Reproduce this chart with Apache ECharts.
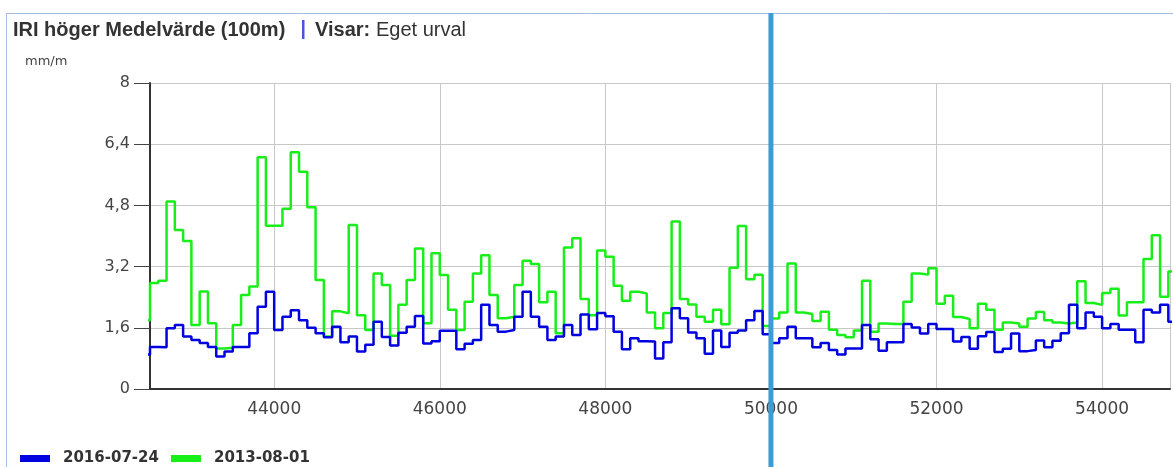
<!DOCTYPE html>
<html><head><meta charset="utf-8">
<script src="https://cdn.jsdelivr.net/npm/echarts@6/dist/echarts.min.js"></script>
<style>html,body{margin:0;padding:0;background:#fff;overflow:hidden}#c{width:1173px;height:467px}</style>
</head><body><div id="c"></div>
<script>
// Position (m) where the first 100 m step starts, and the step length
const startPos = 42400;
const stepLen = 100;
// IRI höger medelvärde per 100 m (mm/m)
const blue2016 = [0.9,
 1.1,1.09,1.59,1.67,1.37,1.28,1.2,1.1,0.85,0.98,
 1.1,1.1,1.46,2.15,2.54,1.54,1.89,2.06,1.8,1.6,
 1.46,1.35,1.63,1.22,1.37,0.98,1.16,1.76,1.36,1.14,
 1.47,1.63,1.91,1.19,1.25,1.52,1.52,1.04,1.18,1.28,
 2.2,1.67,1.5,1.54,1.89,2.54,1.89,1.63,1.28,1.37,
 1.67,1.41,1.95,1.56,1.99,1.9,1.5,1.04,1.33,1.25,
 1.24,0.8,1.22,2.11,1.85,1.48,1.33,0.92,1.53,1.1,
 1.47,1.53,1.8,2.04,1.43,1.2,1.33,1.63,1.33,1.33,
 1.09,1.2,1.02,0.9,1.06,1.06,1.67,1.3,1.0,1.22,
 1.22,1.7,1.61,1.45,1.7,1.57,1.57,1.24,1.36,1.05,
 1.38,1.49,0.97,1.05,1.45,0.99,1.02,1.27,1.09,1.26,
 1.46,2.2,1.59,2.0,1.89,1.59,1.7,1.55,1.55,1.22,
 2.07,2.0,2.2,1.76];
const green2013 = [1.8,
 2.77,2.83,4.9,4.16,3.87,1.67,2.55,1.72,1.06,1.08,
 1.67,2.46,2.68,6.06,4.27,4.27,4.71,6.19,5.68,4.75,
 2.85,1.37,2.03,1.98,4.29,1.93,1.54,3.02,2.72,1.39,
 2.2,2.85,3.67,1.72,3.55,2.98,2.07,1.54,2.28,3.02,
 3.5,2.46,1.85,1.89,2.72,3.35,3.27,2.27,2.54,1.46,
 3.7,3.94,2.35,1.93,3.62,3.46,2.7,2.31,2.54,2.5,
 2.0,1.59,1.99,4.38,2.35,2.21,1.89,1.76,2.07,1.69,
 3.17,4.26,2.87,2.99,1.65,1.84,2.0,3.28,2.0,1.96,
 1.78,2.02,1.55,1.41,1.35,1.53,2.83,1.5,1.71,1.7,
 1.7,2.28,3.02,2.99,3.16,2.23,2.44,1.88,1.83,1.59,
 2.23,2.07,1.55,1.74,1.71,1.63,1.84,2.01,1.8,1.74,
 1.71,1.74,2.82,2.25,2.2,2.51,2.62,1.92,2.27,2.27,
 3.4,4.02,2.41,3.07];
const seriesNames = ['2016-07-24', '2013-08-01'];
const xMin = 42500, xMax = 54820;
const yMin = 0, yMax = 8, yStep = 1.6;
const markerPos = 50000;

function toPoints(vals) {
  const pts = vals.map((v, i) => [startPos + i * stepLen, v]);
  pts.push([startPos + vals.length * stepLen, vals[vals.length - 1]]);
  return pts;
}

const FONT = 'DejaVu Sans';
const TFONT = '"Liberation Sans", Arial, sans-serif';
const chart = echarts.init(document.getElementById('c'), null, {renderer: 'canvas'});
chart.setOption({
  animation: false,
  backgroundColor: '#fff',
  grid: {left: 150, right: 0, top: 83, bottom: 78, containLabel: false},
  legend: {
    left: 15, top: 446, itemWidth: 30, itemHeight: 7, icon: 'rect', itemGap: 12,
    data: seriesNames,
    textStyle: {fontFamily: FONT, fontWeight: 'bold', fontSize: 15, color: '#333', padding: [0, 0, 0, 8]}
  },
  xAxis: {
    type: 'value', min: xMin, max: xMax, splitNumber: 6,
    axisLine: {show: true, lineStyle: {color: '#333', width: 2}},
    axisTick: {show: false},
    splitLine: {show: true, lineStyle: {color: '#c8c8c8', width: 1}},
    axisLabel: {
      fontFamily: FONT, fontSize: 17, color: '#444', margin: 12,
      formatter: v => (v % 2000 === 0 ? String(v) : '')
    }
  },
  yAxis: {
    type: 'value', min: yMin, max: yMax, interval: yStep,
    axisLine: {show: true, lineStyle: {color: '#333', width: 2}},
    axisTick: {show: true, length: 16, lineStyle: {color: '#444', width: 1}},
    splitLine: {show: true, lineStyle: {color: '#c8c8c8', width: 1}},
    axisLabel: {
      fontFamily: FONT, fontSize: 16, color: '#444', margin: 20,
      formatter: v => String(Math.round(v * 10) / 10).replace('.', ',')
    }
  },
  series: [
    {name: seriesNames[1], type: 'line', step: 'end', showSymbol: false, data: toPoints(green2013),
     lineStyle: {color: '#18ee18', width: 2.5}, itemStyle: {color: '#18ee18'}, z: 2},
    {name: seriesNames[0], type: 'line', step: 'end', showSymbol: false, data: toPoints(blue2016),
     lineStyle: {color: '#0000e0', width: 2.5}, itemStyle: {color: '#0000e0'}, z: 3}
  ]
});

const mx = chart.convertToPixel({xAxisIndex: 0}, markerPos);
chart.setOption({
  graphic: [
    {type: 'line', shape: {x1: 6.5, y1: 13, x2: 6.5, y2: 467}, style: {stroke: '#a8bbe6', lineWidth: 1}, z: 10},
    {type: 'line', shape: {x1: 6, y1: 13.5, x2: 1173, y2: 13.5}, style: {stroke: '#a8bbe6', lineWidth: 1}, z: 10},
    {type: 'text', left: 13, top: 20, style: {text: 'IRI höger Medelvärde (100m)', font: 'bold 20px ' + TFONT, fill: '#333'}},
    {type: 'rect', shape: {x: 302, y: 20, width: 2.5, height: 19}, style: {fill: '#4a55d8'}},
    {type: 'text', left: 315, top: 20, style: {text: 'Visar:', font: 'bold 20px ' + TFONT, fill: '#333'}},
    {type: 'text', left: 376, top: 20, style: {text: 'Eget urval', font: '20px ' + TFONT, fill: '#333'}},
    {type: 'text', left: 25, top: 55, style: {text: 'mm/m', font: '13px "DejaVu Sans"', fill: '#444'}},
    {type: 'line', shape: {x1: mx, y1: 13, x2: mx, y2: 467}, style: {stroke: '#3d9bd6', lineWidth: 5}, z: 20}
  ]
});
</script></body></html>
